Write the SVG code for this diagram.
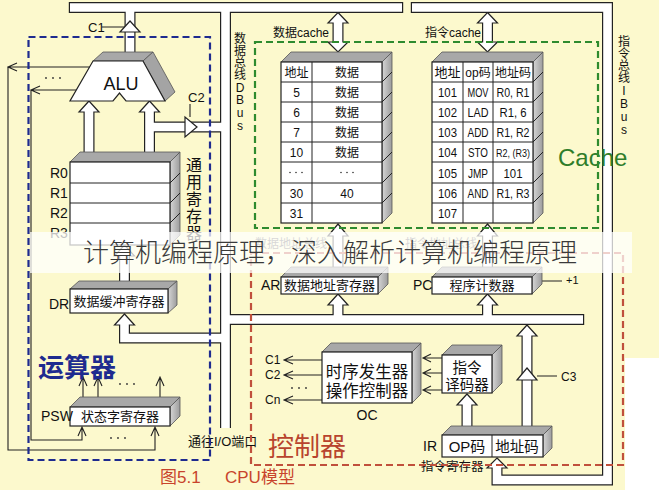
<svg xmlns="http://www.w3.org/2000/svg" width="659" height="490" viewBox="0 0 659 490">
<defs>
<style>
text{font-family:"Liberation Sans","Noto Sans CJK SC",sans-serif;fill:#111;}
.c{text-anchor:middle;}
.bk{fill:none;stroke:#222;stroke-width:11;stroke-linejoin:miter;stroke-linecap:butt;}
.wh{fill:none;stroke:#fff;stroke-width:8.6;stroke-linejoin:miter;stroke-linecap:butt;}
.hd{fill:#fff;stroke:#222;stroke-width:1.2;stroke-linejoin:miter;}
.ln{fill:none;stroke:#222;stroke-width:1.1;}
.fr{fill:#fff;stroke:#222;stroke-width:1.2;}
.tp{fill:#a8a8a8;stroke:#555;stroke-width:0.8;}
.sd{fill:url(#sg);stroke:#555;stroke-width:0.8;}
.cl{fill:none;stroke:#222;stroke-width:1;}
.db{fill:none;stroke:#1e2b8f;stroke-width:2.2;stroke-dasharray:7 4;}
.dg{fill:none;stroke:#2e8b2e;stroke-width:2.2;stroke-dasharray:7 4;}
.dr{fill:none;stroke:#c0503c;stroke-width:2.2;stroke-dasharray:7 4;}
.dot{fill:#333;}
.s12{font-size:12px;}
.s13{font-size:13px;}
.s14{font-size:14px;}
.s15{font-size:15px;}
</style>
<linearGradient id="sg" x1="0" y1="0" x2="1" y2="0"><stop offset="0" stop-color="#d6d6d6"/><stop offset="1" stop-color="#9c9c9c"/></linearGradient>
</defs>
<rect width="659" height="490" fill="#fcf9cd"/>
<rect x="625" y="358" width="34" height="132" fill="#ffffff"/>

<g id="connectors">
 <path class="bk" d="M68.8,7.5 H403.2 M225.5,7.5 V428 M130,7.5 V56 M149.5,112 V156 M149.5,127 H225.5 M225.5,319.5 H584.2 M338,305 V319.5 M487.5,305 V319.5 M225.5,338 H124.5 V325"/>
 <path class="bk" d="M410.8,7.5 H607.5 V480 H497 V468"/>
 <path class="bk" d="M89,112 V156 M124.5,256 V284 M338,23 V42 M487.5,23 V42 M338,236 V268 M487.5,236 V268 M527,336 V430 M467,405 V430"/>
 <polygon class="hd" points="89,101 99,112 79,112"/>
 <polygon class="hd" points="149.5,101 159.5,112 139.5,112"/>
 <polygon class="hd" points="124.5,245 134.5,256 114.5,256"/>
 <polygon class="hd" points="124.5,314 134.5,325 114.5,325"/>
 <polygon class="hd" points="338,12.5 348,23 328,23"/>
 <polygon class="hd" points="328,42 348,42 338,52"/>
 <polygon class="hd" points="487.5,12.5 497.5,23 477.5,23"/>
 <polygon class="hd" points="477.5,42 497.5,42 487.5,52"/>
 <polygon class="hd" points="338,224 348,236 328,236"/>
 <polygon class="hd" points="487.5,224 497.5,236 477.5,236"/>
 <polygon class="hd" points="338,294 348,305 328,305"/>
 <polygon class="hd" points="487.5,294 497.5,305 477.5,305"/>
 <polygon class="hd" points="527,325 537,336 517,336"/>
 <polygon class="hd" points="467,394 477,405 457,405"/>
 <polygon class="hd" points="497,458 507,468 487,468"/>
 <path class="wh" d="M70,7.5 H402 M225.5,7.5 V428 M130,7.5 V56 M149.5,110 V156 M149.5,127 H225.5 M225.5,319.5 H583 M338,303 V319.5 M487.5,303 V319.5 M225.5,338 H124.5 V323"/>
 <path class="wh" d="M412,7.5 H607.5 V480 H497 V466"/>
 <path class="wh" d="M89,110 V156 M124.5,254 V284 M338,21 V44 M487.5,21 V44 M338,234 V268 M487.5,234 V268 M527,334 V430 M467,403 V430"/>
 <polygon class="hd" points="130,21 140,32 120,32"/>
 <polygon class="hd" points="197,127 185,117 185,137"/>
 <polygon class="hd" points="527,368 537,380 517,380"/>
 <path class="ln" d="M102,27 H124 M190,104 V117 M537,376 H557 M542,281 H562"/>
 <path class="ln" d="M91,67 H8 V450 H155 V427 M17,63 L8,67 L17,71 M151,436 L155,427 L159,436"/>
 <path class="ln" d="M77,90 H31 V440 H82 V427 M40,86 L31,90 L40,94 M78,436 L82,427 L86,436"/>
 <path class="ln" d="M83,397 V377 M79,386 L83,377 L87,386 M98,397 V377 M94,386 L98,377 L102,386 M160,397 V377 M156,386 L160,377 L164,386"/>
 <path class="ln" d="M322,360 H284 M293,356 L284,360 L293,364 M322,375 H284 M293,371 L284,375 L293,379 M322,400 H284 M293,396 L284,400 L293,404"/>
 <path class="ln" d="M442,358 H423 M431,354 L423,358 L431,362 M442,373 H423 M431,369 L423,373 L431,377 M442,390 H423 M431,386 L423,390 L431,394"/>
</g>

<g id="alu">
 <polygon class="tp" points="93,61 103,52 153,52 143,61"/>
 <polygon points="143,61 153,52 175,92 165,101" fill="#a4a4a4" stroke="#555" stroke-width="0.8"/>
 <polygon class="fr" points="93,61 143,61 165,101 126,101 119.5,93 113,101 70,101"/>
 <text class="c" x="121" y="90" font-size="18">ALU</text>
</g>

<g id="registers">
 <polygon class="tp" points="70,162 80,152 180,152 170,162"/>
 <polygon class="sd" points="170,162 180,152 180,235 170,245"/>
 <rect class="fr" x="70" y="162" width="100" height="83"/>
 <path class="cl" d="M70,183 H170 M70,203 H170 M70,223 H170 M170,183 L180,173 M170,203 L180,193 M170,223 L180,213"/>
 <text class="s14" x="50" y="178">R0</text>
 <text class="s14" x="50" y="198">R1</text>
 <text class="s14" x="50" y="218">R2</text>
 <text class="s14" x="50" y="238">R3</text>
 <g font-size="16" text-anchor="middle">
  <text x="194" y="171">通</text>
  <text x="194" y="188">用</text>
  <text x="194" y="205">寄</text>
  <text x="194" y="222">存</text>
  <text x="194" y="239">器</text>
 </g>
</g>

<g id="dr">
 <polygon class="tp" points="70,289 79,281 177,281 168,289"/>
 <polygon class="sd" points="168,289 177,281 177,305 168,313"/>
 <rect class="fr" x="70" y="289" width="98" height="24"/>
 <text class="c s13" x="119" y="306">数据缓冲寄存器</text>
 <text class="s14" x="49" y="309">DR</text>
</g>

<g id="psw">
 <polygon class="tp" points="70,407 80,397 180,397 170,407"/>
 <polygon class="sd" points="170,407 180,397 180,416 170,426"/>
 <rect class="fr" x="70" y="407" width="100" height="19"/>
 <text class="c s13" x="120" y="421">状态字寄存器</text>
 <text class="s14" x="41" y="421">PSW</text>
 <circle class="dot" cx="120" cy="384" r="0.9"/><circle class="dot" cx="127" cy="384" r="0.9"/><circle class="dot" cx="134" cy="384" r="0.9"/>
 <circle class="dot" cx="111" cy="438" r="0.9"/><circle class="dot" cx="118" cy="438" r="0.9"/><circle class="dot" cx="125" cy="438" r="0.9"/>
 <circle class="dot" cx="46" cy="78" r="0.9"/><circle class="dot" cx="53" cy="78" r="0.9"/><circle class="dot" cx="60" cy="78" r="0.9"/>
</g>

<g id="data-cache">
 <polygon class="tp" points="281,62 291,52 392,52 382,62"/>
 <polygon class="sd" points="382,62 392,52 392,213 382,223"/>
 <rect class="fr" x="281" y="62" width="101" height="161"/>
 <path class="cl" d="M312,62 V223 M281,82 H382 M281,102 H382 M281,122 H382 M281,142 H382 M281,162 H382 M281,183 H382 M281,203 H382 M382,82 L392,72 M382,102 L392,92 M382,122 L392,112 M382,142 L392,132 M382,162 L392,152 M382,183 L392,173 M382,203 L392,193"/>
 <g class="s12" text-anchor="middle">
  <text x="296.5" y="76.5">地址</text><text x="347" y="76.5">数据</text>
  <text x="296.5" y="96.5">5</text><text x="347" y="96.5">数据</text>
  <text x="296.5" y="116.5">6</text><text x="347" y="116.5">数据</text>
  <text x="296.5" y="136.5">7</text><text x="347" y="136.5">数据</text>
  <text x="296.5" y="156.5">10</text><text x="347" y="156.5">数据</text>
  <text x="296.5" y="197.5">30</text><text x="347" y="197.5">40</text>
  <text x="296.5" y="217.5">31</text>
 </g>
 <circle class="dot" cx="290" cy="172.5" r="0.8"/><circle class="dot" cx="296" cy="172.5" r="0.8"/><circle class="dot" cx="302" cy="172.5" r="0.8"/>
 <circle class="dot" cx="341" cy="172.5" r="0.8"/><circle class="dot" cx="347" cy="172.5" r="0.8"/><circle class="dot" cx="353" cy="172.5" r="0.8"/>
 <text class="s12" x="273" y="37">数据cache</text>
</g>

<g id="inst-cache">
 <polygon class="tp" points="432,62 442,52 543,52 533,62"/>
 <polygon class="sd" points="533,62 543,52 543,213 533,223"/>
 <rect class="fr" x="432" y="62" width="101" height="161"/>
 <path class="cl" d="M463,62 V223 M493,62 V223 M432,82 H533 M432,102 H533 M432,122 H533 M432,142 H533 M432,162 H533 M432,183 H533 M432,203 H533 M533,82 L543,72 M533,102 L543,92 M533,122 L543,112 M533,142 L543,132 M533,162 L543,152 M533,183 L543,173 M533,203 L543,193"/>
 <g class="s13" text-anchor="middle">
  <text x="447.5" y="77">地址</text><text x="478" y="77" font-size="12">op码</text><text x="513" y="77" font-size="12">地址码</text>
  <text x="447.5" y="97" textLength="19" lengthAdjust="spacingAndGlyphs">101</text><text x="478" y="97" textLength="21" lengthAdjust="spacingAndGlyphs">MOV</text><text x="513" y="97" textLength="33" lengthAdjust="spacingAndGlyphs">R0, R1</text>
  <text x="447.5" y="117" textLength="19" lengthAdjust="spacingAndGlyphs">102</text><text x="478" y="117" textLength="21" lengthAdjust="spacingAndGlyphs">LAD</text><text x="513" y="117" textLength="27" lengthAdjust="spacingAndGlyphs">R1, 6</text>
  <text x="447.5" y="137" textLength="19" lengthAdjust="spacingAndGlyphs">103</text><text x="478" y="137" textLength="21" lengthAdjust="spacingAndGlyphs">ADD</text><text x="513" y="137" textLength="33" lengthAdjust="spacingAndGlyphs">R1, R2</text>
  <text x="447.5" y="157" textLength="19" lengthAdjust="spacingAndGlyphs">104</text><text x="478" y="157" textLength="20" lengthAdjust="spacingAndGlyphs">STO</text><text x="513" y="157" font-size="10" textLength="34" lengthAdjust="spacingAndGlyphs">R2, (R3)</text>
  <text x="447.5" y="177.5" textLength="19" lengthAdjust="spacingAndGlyphs">105</text><text x="478" y="177.5" textLength="20" lengthAdjust="spacingAndGlyphs">JMP</text><text x="513" y="177.5" textLength="19" lengthAdjust="spacingAndGlyphs">101</text>
  <text x="447.5" y="198" textLength="19" lengthAdjust="spacingAndGlyphs">106</text><text x="478" y="198" textLength="21" lengthAdjust="spacingAndGlyphs">AND</text><text x="513" y="198" textLength="33" lengthAdjust="spacingAndGlyphs">R1, R3</text>
  <text x="447.5" y="218" textLength="19" lengthAdjust="spacingAndGlyphs">107</text>
 </g>
 <text class="s12" x="425" y="37">指令cache</text>
</g>

<g id="ar">
 <polygon class="tp" points="281,277 291,267 388,267 378,277"/>
 <polygon class="sd" points="378,277 388,267 388,284 378,294"/>
 <rect class="fr" x="281" y="277" width="97" height="17"/>
 <text class="c s13" x="329.5" y="290">数据地址寄存器</text>
 <text class="s14" x="261" y="290">AR</text>
</g>

<g id="pc">
 <polygon class="tp" points="432,277 442,267 542,267 532,277"/>
 <polygon class="sd" points="532,277 542,267 542,284 532,294"/>
 <rect class="fr" x="432" y="277" width="100" height="17"/>
 <text class="c s13" x="482" y="290">程序计数器</text>
 <text class="s14" x="413" y="290">PC</text>
 <text x="566" y="284" font-size="11">+1</text>
</g>

<g id="oc">
 <polygon class="tp" points="322,352 331,343 421,343 412,352"/>
 <polygon class="sd" points="412,352 421,343 421,394 412,403"/>
 <rect class="fr" x="322" y="352" width="90" height="51"/>
 <text class="c" x="367" y="378" font-size="16.5">时序发生器</text>
 <text class="c" x="367" y="397" font-size="16.5">操作控制器</text>
 <text class="c s14" x="367" y="420">OC</text>
 <text class="s12" x="265" y="364">C1</text>
 <text class="s12" x="265" y="379">C2</text>
 <text class="s12" x="265" y="404">Cn</text>
 <circle class="dot" cx="292" cy="388" r="0.9"/><circle class="dot" cx="299" cy="388" r="0.9"/><circle class="dot" cx="306" cy="388" r="0.9"/>
</g>

<g id="decoder">
 <polygon class="tp" points="442,355 452,345 502,345 492,355"/>
 <polygon class="sd" points="492,355 502,345 502,383 492,393"/>
 <rect class="fr" x="442" y="355" width="50" height="38"/>
 <text class="c" x="467" y="373" font-size="14.5">指令</text>
 <text class="c" x="467" y="390" font-size="14.5">译码器</text>
</g>

<g id="ir">
 <polygon class="tp" points="442,435 451,426 552,426 543,435"/>
 <polygon class="sd" points="543,435 552,426 552,448 543,457"/>
 <rect class="fr" x="442" y="435" width="101" height="22"/>
 <path class="cl" d="M492,435 V457"/>
 <text class="c s15" x="467" y="452">OP码</text>
 <text class="c" x="517" y="452" font-size="14.5">地址码</text>
 <text class="s14" x="423" y="451">IR</text>
 <text x="421" y="471" font-size="12.5">指令寄存器</text>
 <text class="s12" x="561" y="381">C3</text>
</g>

<g id="labels">
 <text x="88" y="32" class="s13">C1</text>
 <text x="188" y="102" class="s13">C2</text>
 <g class="s12" text-anchor="middle">
  <text x="240" y="43">数</text><text x="240" y="55">据</text><text x="240" y="67">总</text><text x="240" y="79">线</text>
  <text x="240" y="92">D</text><text x="240" y="104">B</text><text x="240" y="117">u</text><text x="240" y="130">s</text>
 </g>
 <g class="s12" text-anchor="middle">
  <text x="624" y="46">指</text><text x="624" y="58">令</text><text x="624" y="70">总</text><text x="624" y="82">线</text>
  <text x="624" y="95">I</text><text x="624" y="108">B</text><text x="624" y="121">u</text><text x="624" y="134">s</text>
 </g>
 <text x="558" y="166" font-size="24" style="fill:#2f7d2a">Cache</text>
 <text x="38" y="377" font-size="26" font-weight="bold" style="fill:#1e2b8f">运算器</text>
 <text x="268" y="456" font-size="26" style="fill:#b8442e">控制器</text>
 <text x="188" y="446" class="s13">通往I/O端口</text>
 <text x="160" y="483" font-size="17" style="fill:#c8442c">图5.1</text>
 <text x="225" y="483" font-size="17" style="fill:#c8442c">CPU模型</text>
 <text x="255" y="248" class="s12" style="fill:#666">数据地址总线</text>
 <text x="405" y="248" class="s12" style="fill:#666">指令地址总线</text>
</g>

<g id="regions">
 <rect class="db" x="28.5" y="37" width="181.5" height="423"/>
 <rect class="dg" x="255" y="42" width="343" height="186"/>
 <rect class="dr" x="251" y="253" width="372" height="212"/>
</g>

<g id="watermark">
 <rect x="30" y="232" width="602" height="41" fill="#ffffff" fill-opacity="0.74"/>
 <text x="83" y="262" font-size="26" font-weight="300" style="fill:#3a3a3a">计算机编程原理，深入解析计算机编程原理</text>
</g>
</svg>
